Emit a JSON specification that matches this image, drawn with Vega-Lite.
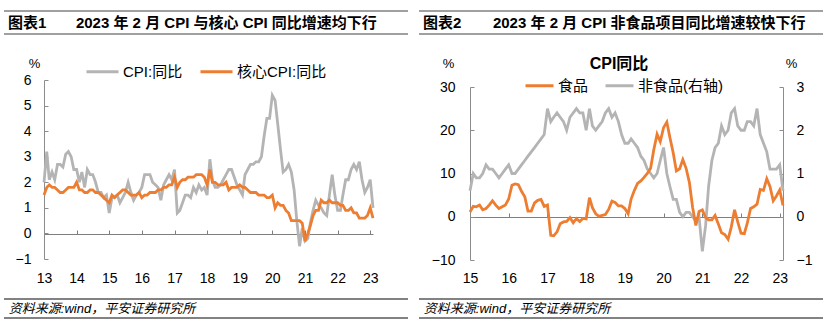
{
  "$schema": "https://vega.github.io/schema/vega-lite/v6.json",
  "background": "white",
  "padding": {"left": 3, "top": 10, "right": 0, "bottom": 0},
  "bounds": "flush",
  "columns": 2,
  "spacing": {"row": 0, "column": 11},
  "resolve": {"scale": {"color": "independent"}, "legend": {"color": "independent"}},
  "config": {
    "font": "Liberation Sans, Noto Sans CJK SC",
    "view": {"stroke": null},
    "axis": {"labelFontSize": 14, "labelColor": "#000000", "domainColor": "#8c8c8c", "tickColor": "#8c8c8c", "grid": false, "titleFontWeight": "normal", "titleColor": "#000000"},
    "legend": {"labelFontSize": 15, "labelColor": "#000000"}
  },
  "concat": [
    {
      "width": 404, "height": 23,
      "data": {"values": [{}]},
      "layer": [
        {"mark": {"type": "rule", "color": "#808080", "strokeWidth": 1.6}, "encoding": {"y": {"datum": 1, "type": "quantitative", "scale": {"domain": [0, 1]}, "axis": null}}},
        {"mark": {"type": "rule", "color": "#808080", "strokeWidth": 1.6}, "encoding": {"y": {"datum": 0, "type": "quantitative", "scale": {"domain": [0, 1]}, "axis": null}}},
        {"mark": {"type": "text", "align": "left", "baseline": "middle", "fontSize": 15, "fontWeight": "bold", "color": "#000000"}, "encoding": {"x": {"datum": 0.01, "type": "quantitative", "scale": {"domain": [0, 1]}, "axis": null}, "y": {"datum": 0.5, "type": "quantitative", "scale": {"domain": [0, 1]}, "axis": null}, "text": {"value": "图表1"}}},
        {"mark": {"type": "text", "align": "left", "baseline": "middle", "fontSize": 15, "fontWeight": "bold", "color": "#000000"}, "encoding": {"x": {"datum": 0.178, "type": "quantitative", "scale": {"domain": [0, 1]}, "axis": null}, "y": {"datum": 0.5, "type": "quantitative", "scale": {"domain": [0, 1]}, "axis": null}, "text": {"value": "2023 年 2 月 CPI 与核心 CPI 同比增速均下行"}}}
      ]
    },
    {
      "width": 404, "height": 23,
      "data": {"values": [{}]},
      "layer": [
        {"mark": {"type": "rule", "color": "#808080", "strokeWidth": 1.6}, "encoding": {"y": {"datum": 1, "type": "quantitative", "scale": {"domain": [0, 1]}, "axis": null}}},
        {"mark": {"type": "rule", "color": "#808080", "strokeWidth": 1.6}, "encoding": {"y": {"datum": 0, "type": "quantitative", "scale": {"domain": [0, 1]}, "axis": null}}},
        {"mark": {"type": "text", "align": "left", "baseline": "middle", "fontSize": 15, "fontWeight": "bold", "color": "#000000"}, "encoding": {"x": {"datum": 0.01, "type": "quantitative", "scale": {"domain": [0, 1]}, "axis": null}, "y": {"datum": 0.5, "type": "quantitative", "scale": {"domain": [0, 1]}, "axis": null}, "text": {"value": "图表2"}}},
        {"mark": {"type": "text", "align": "left", "baseline": "middle", "fontSize": 15, "fontWeight": "bold", "color": "#000000"}, "encoding": {"x": {"datum": 0.183, "type": "quantitative", "scale": {"domain": [0, 1]}, "axis": null}, "y": {"datum": 0.5, "type": "quantitative", "scale": {"domain": [0, 1]}, "axis": null}, "text": {"value": "2023 年 2 月 CPI 非食品项目同比增速较快下行"}}}
      ]
    },
    {
      "width": 404, "height": 265,
      "data": {
        "format": {"parse": {"d": "utc:'%Y-%m'"}},
        "values": [
          {"d":"2013-01","cpi":2.0,"core":1.5},{"d":"2013-02","cpi":3.2,"core":1.8},{"d":"2013-03","cpi":2.1,"core":1.9},{"d":"2013-04","cpi":2.4,"core":1.8},{"d":"2013-05","cpi":2.1,"core":1.8},{"d":"2013-06","cpi":2.7,"core":1.7},{"d":"2013-07","cpi":2.7,"core":1.6},{"d":"2013-08","cpi":2.6,"core":1.6},{"d":"2013-09","cpi":3.1,"core":1.7},{"d":"2013-10","cpi":3.2,"core":1.8},{"d":"2013-11","cpi":3.0,"core":1.8},{"d":"2013-12","cpi":2.5,"core":1.8},
          {"d":"2014-01","cpi":2.5,"core":2.0},{"d":"2014-02","cpi":2.0,"core":1.7},{"d":"2014-03","cpi":2.4,"core":1.7},{"d":"2014-04","cpi":1.8,"core":1.6},{"d":"2014-05","cpi":2.5,"core":1.6},{"d":"2014-06","cpi":2.3,"core":1.7},{"d":"2014-07","cpi":2.3,"core":1.7},{"d":"2014-08","cpi":2.0,"core":1.6},{"d":"2014-09","cpi":1.6,"core":1.6},{"d":"2014-10","cpi":1.6,"core":1.5},{"d":"2014-11","cpi":1.4,"core":1.4},{"d":"2014-12","cpi":1.5,"core":1.3},
          {"d":"2015-01","cpi":0.8,"core":1.2},{"d":"2015-02","cpi":1.4,"core":1.5},{"d":"2015-03","cpi":1.4,"core":1.4},{"d":"2015-04","cpi":1.5,"core":1.5},{"d":"2015-05","cpi":1.2,"core":1.6},{"d":"2015-06","cpi":1.4,"core":1.7},{"d":"2015-07","cpi":1.6,"core":1.7},{"d":"2015-08","cpi":2.0,"core":1.6},{"d":"2015-09","cpi":1.6,"core":1.5},{"d":"2015-10","cpi":1.3,"core":1.5},{"d":"2015-11","cpi":1.5,"core":1.5},{"d":"2015-12","cpi":1.6,"core":1.6},
          {"d":"2016-01","cpi":1.8,"core":1.4},{"d":"2016-02","cpi":2.3,"core":1.5},{"d":"2016-03","cpi":2.3,"core":1.5},{"d":"2016-04","cpi":2.3,"core":1.6},{"d":"2016-05","cpi":2.0,"core":1.6},{"d":"2016-06","cpi":1.9,"core":1.6},{"d":"2016-07","cpi":1.8,"core":1.7},{"d":"2016-08","cpi":1.3,"core":1.7},{"d":"2016-09","cpi":1.9,"core":1.8},{"d":"2016-10","cpi":2.1,"core":1.8},{"d":"2016-11","cpi":2.3,"core":1.9},{"d":"2016-12","cpi":2.1,"core":1.9},
          {"d":"2017-01","cpi":2.5,"core":2.2},{"d":"2017-02","cpi":0.8,"core":1.8},{"d":"2017-03","cpi":0.9,"core":2.0},{"d":"2017-04","cpi":1.2,"core":2.1},{"d":"2017-05","cpi":1.5,"core":2.1},{"d":"2017-06","cpi":1.5,"core":2.2},{"d":"2017-07","cpi":1.4,"core":2.2},{"d":"2017-08","cpi":1.8,"core":2.2},{"d":"2017-09","cpi":1.6,"core":2.3},{"d":"2017-10","cpi":1.9,"core":2.3},{"d":"2017-11","cpi":1.7,"core":2.3},{"d":"2017-12","cpi":1.8,"core":2.2},
          {"d":"2018-01","cpi":1.5,"core":1.9},{"d":"2018-02","cpi":2.9,"core":2.5},{"d":"2018-03","cpi":2.1,"core":2.0},{"d":"2018-04","cpi":1.8,"core":2.0},{"d":"2018-05","cpi":1.8,"core":1.9},{"d":"2018-06","cpi":1.9,"core":1.9},{"d":"2018-07","cpi":2.1,"core":1.9},{"d":"2018-08","cpi":2.3,"core":2.0},{"d":"2018-09","cpi":2.5,"core":1.7},{"d":"2018-10","cpi":2.5,"core":1.8},{"d":"2018-11","cpi":2.2,"core":1.8},{"d":"2018-12","cpi":1.9,"core":1.8},
          {"d":"2019-01","cpi":1.7,"core":1.9},{"d":"2019-02","cpi":1.5,"core":1.8},{"d":"2019-03","cpi":2.3,"core":1.8},{"d":"2019-04","cpi":2.5,"core":1.7},{"d":"2019-05","cpi":2.7,"core":1.6},{"d":"2019-06","cpi":2.7,"core":1.6},{"d":"2019-07","cpi":2.8,"core":1.6},{"d":"2019-08","cpi":2.8,"core":1.5},{"d":"2019-09","cpi":3.0,"core":1.5},{"d":"2019-10","cpi":3.8,"core":1.5},{"d":"2019-11","cpi":4.5,"core":1.4},{"d":"2019-12","cpi":4.5,"core":1.4},
          {"d":"2020-01","cpi":5.4,"core":1.5},{"d":"2020-02","cpi":5.2,"core":1.0},{"d":"2020-03","cpi":4.3,"core":1.2},{"d":"2020-04","cpi":3.3,"core":1.1},{"d":"2020-05","cpi":2.4,"core":1.1},{"d":"2020-06","cpi":2.5,"core":0.9},{"d":"2020-07","cpi":2.7,"core":0.8},{"d":"2020-08","cpi":2.4,"core":0.5},{"d":"2020-09","cpi":1.7,"core":0.5},{"d":"2020-10","cpi":0.5,"core":0.5},{"d":"2020-11","cpi":-0.5,"core":0.5},{"d":"2020-12","cpi":0.2,"core":0.4},
          {"d":"2021-01","cpi":-0.3,"core":-0.3},{"d":"2021-02","cpi":-0.2,"core":0.0},{"d":"2021-03","cpi":0.4,"core":0.3},{"d":"2021-04","cpi":0.9,"core":0.7},{"d":"2021-05","cpi":1.3,"core":0.9},{"d":"2021-06","cpi":1.1,"core":0.9},{"d":"2021-07","cpi":1.0,"core":1.3},{"d":"2021-08","cpi":0.8,"core":1.2},{"d":"2021-09","cpi":0.7,"core":1.2},{"d":"2021-10","cpi":1.5,"core":1.3},{"d":"2021-11","cpi":2.3,"core":1.2},{"d":"2021-12","cpi":1.5,"core":1.2},
          {"d":"2022-01","cpi":0.9,"core":1.2},{"d":"2022-02","cpi":0.9,"core":1.1},{"d":"2022-03","cpi":1.5,"core":1.1},{"d":"2022-04","cpi":2.1,"core":0.9},{"d":"2022-05","cpi":2.1,"core":0.9},{"d":"2022-06","cpi":2.5,"core":1.0},{"d":"2022-07","cpi":2.7,"core":0.8},{"d":"2022-08","cpi":2.5,"core":0.8},{"d":"2022-09","cpi":2.8,"core":0.6},{"d":"2022-10","cpi":2.1,"core":0.6},{"d":"2022-11","cpi":1.6,"core":0.6},{"d":"2022-12","cpi":1.8,"core":0.7},
          {"d":"2023-01","cpi":2.1,"core":1.0},{"d":"2023-02","cpi":1.0,"core":0.6}
        ]
      },
      "layer": [
        {
          "mark": {"type": "line", "strokeWidth": 2.8},
          "encoding": {
            "x": {"field": "d", "type": "temporal", "scale": {"type": "utc", "range": [40, 369]},
                  "axis": {"orient": "bottom", "offset": -40, "domain": false, "ticks": false, "labelPadding": 12, "format": "%y", "tickCount": {"interval": "year", "step": 1}, "title": null, "labelFlush": false, "labelOverlap": false}},
            "y": {"field": "cpi", "type": "quantitative", "scale": {"domain": [-1, 6], "range": [225, 46], "nice": false, "zero": false},
                  "axis": {"orient": "left", "offset": -40, "values": [-1, 0, 1, 2, 3, 4, 5, 6], "tickSize": -4, "labelPadding": 17, "title": "%", "titleAngle": 0, "titleX": -10, "titleY": 29, "titleAlign": "center", "titleBaseline": "middle", "titleFontSize": 13}},
            "color": {"datum": "CPI:同比", "type": "nominal", "scale": {"domain": ["CPI:同比", "核心CPI:同比"], "range": ["#b4b4b4", "#ed7d31"]},
                      "legend": {"orient": "none", "legendX": 81, "legendY": 20, "direction": "horizontal", "title": null, "symbolType": "stroke", "symbolSize": 1024, "symbolStrokeWidth": 3, "labelOffset": 3, "columnPadding": 11, "padding": 0}}
          }
        },
        {
          "mark": {"type": "line", "strokeWidth": 2.8},
          "encoding": {
            "x": {"field": "d", "type": "temporal",
                  "axis": {"orient": "top", "offset": -200, "labels": false, "domain": true, "ticks": true, "tickSize": 4, "tickCount": {"interval": "year", "step": 1}, "title": null, "domainColor": "#7f7f7f", "tickColor": "#7f7f7f"}},
            "y": {"field": "core", "type": "quantitative",
                  "axis": {"orient": "left", "offset": -40, "values": [-1, 0, 1, 2, 3, 4, 5, 6], "tickSize": -4, "labelPadding": 17, "title": "%", "titleAngle": 0, "titleX": -10, "titleY": 29, "titleAlign": "center", "titleBaseline": "middle", "titleFontSize": 13}},
            "color": {"datum": "核心CPI:同比", "type": "nominal"}
          }
        }
      ],
      "resolve": {"axis": {"x": "independent"}}
    },
    {
      "width": 404, "height": 265,
      "title": {"text": "CPI同比", "fontSize": 16, "fontWeight": "bold", "anchor": "middle", "frame": "group", "offset": -46, "baseline": "middle", "dx": -2, "color": "#000000"},
      "data": {
        "format": {"parse": {"d": "utc:'%Y-%m'"}},
        "values": [
          {"d":"2015-01","food":1.1,"nonfood":0.6},{"d":"2015-02","food":2.4,"nonfood":1.0},{"d":"2015-03","food":2.3,"nonfood":0.9},{"d":"2015-04","food":2.7,"nonfood":0.9},{"d":"2015-05","food":1.6,"nonfood":1.0},{"d":"2015-06","food":1.9,"nonfood":1.2},{"d":"2015-07","food":2.7,"nonfood":1.1},{"d":"2015-08","food":3.7,"nonfood":1.1},{"d":"2015-09","food":2.7,"nonfood":1.0},{"d":"2015-10","food":1.9,"nonfood":0.9},{"d":"2015-11","food":2.3,"nonfood":1.0},{"d":"2015-12","food":2.7,"nonfood":1.1},
          {"d":"2016-01","food":4.1,"nonfood":1.2},{"d":"2016-02","food":7.3,"nonfood":1.0},{"d":"2016-03","food":7.6,"nonfood":1.0},{"d":"2016-04","food":7.4,"nonfood":1.1},{"d":"2016-05","food":5.9,"nonfood":1.2},{"d":"2016-06","food":4.6,"nonfood":1.3},{"d":"2016-07","food":1.3,"nonfood":1.4},{"d":"2016-08","food":1.3,"nonfood":1.5},{"d":"2016-09","food":3.2,"nonfood":1.6},{"d":"2016-10","food":3.8,"nonfood":1.7},{"d":"2016-11","food":4.0,"nonfood":1.8},{"d":"2016-12","food":2.4,"nonfood":1.9},
          {"d":"2017-01","food":2.7,"nonfood":2.5},{"d":"2017-02","food":-4.3,"nonfood":2.2},{"d":"2017-03","food":-4.4,"nonfood":2.3},{"d":"2017-04","food":-3.5,"nonfood":2.4},{"d":"2017-05","food":-1.6,"nonfood":2.3},{"d":"2017-06","food":-1.2,"nonfood":2.2},{"d":"2017-07","food":-1.1,"nonfood":2.0},{"d":"2017-08","food":-0.2,"nonfood":2.3},{"d":"2017-09","food":-1.4,"nonfood":2.4},{"d":"2017-10","food":-0.4,"nonfood":2.5},{"d":"2017-11","food":-1.1,"nonfood":2.4},{"d":"2017-12","food":-0.4,"nonfood":2.4},
          {"d":"2018-01","food":-0.5,"nonfood":2.0},{"d":"2018-02","food":4.4,"nonfood":2.5},{"d":"2018-03","food":2.1,"nonfood":2.1},{"d":"2018-04","food":0.7,"nonfood":2.0},{"d":"2018-05","food":0.1,"nonfood":2.1},{"d":"2018-06","food":0.3,"nonfood":2.2},{"d":"2018-07","food":0.5,"nonfood":2.4},{"d":"2018-08","food":1.7,"nonfood":2.5},{"d":"2018-09","food":3.6,"nonfood":2.3},{"d":"2018-10","food":3.3,"nonfood":2.4},{"d":"2018-11","food":2.5,"nonfood":2.2},{"d":"2018-12","food":2.5,"nonfood":1.9},
          {"d":"2019-01","food":1.9,"nonfood":1.7},{"d":"2019-02","food":0.7,"nonfood":1.7},{"d":"2019-03","food":4.1,"nonfood":1.8},{"d":"2019-04","food":6.1,"nonfood":1.7},{"d":"2019-05","food":7.7,"nonfood":1.6},{"d":"2019-06","food":8.3,"nonfood":1.4},{"d":"2019-07","food":9.1,"nonfood":1.3},{"d":"2019-08","food":10.0,"nonfood":1.1},{"d":"2019-09","food":11.2,"nonfood":1.0},{"d":"2019-10","food":15.5,"nonfood":0.9},{"d":"2019-11","food":19.1,"nonfood":1.0},{"d":"2019-12","food":17.4,"nonfood":1.3},
          {"d":"2020-01","food":20.6,"nonfood":1.6},{"d":"2020-02","food":21.9,"nonfood":1.0},{"d":"2020-03","food":18.3,"nonfood":0.7},{"d":"2020-04","food":14.8,"nonfood":0.4},{"d":"2020-05","food":10.6,"nonfood":0.4},{"d":"2020-06","food":11.1,"nonfood":0.1},{"d":"2020-07","food":13.2,"nonfood":0.0},{"d":"2020-08","food":11.2,"nonfood":0.1},{"d":"2020-09","food":7.9,"nonfood":0.1},{"d":"2020-10","food":2.2,"nonfood":0.0},{"d":"2020-11","food":-2.0,"nonfood":-0.1},{"d":"2020-12","food":1.2,"nonfood":0.0},
          {"d":"2021-01","food":1.6,"nonfood":-0.8},{"d":"2021-02","food":-0.2,"nonfood":-0.2},{"d":"2021-03","food":-0.7,"nonfood":0.7},{"d":"2021-04","food":-0.7,"nonfood":1.3},{"d":"2021-05","food":0.3,"nonfood":1.6},{"d":"2021-06","food":-1.7,"nonfood":1.7},{"d":"2021-07","food":-3.7,"nonfood":2.1},{"d":"2021-08","food":-4.1,"nonfood":1.9},{"d":"2021-09","food":-5.2,"nonfood":2.0},{"d":"2021-10","food":-2.4,"nonfood":2.4},{"d":"2021-11","food":1.6,"nonfood":2.5},{"d":"2021-12","food":-1.2,"nonfood":2.1},
          {"d":"2022-01","food":-3.8,"nonfood":2.0},{"d":"2022-02","food":-3.9,"nonfood":2.0},{"d":"2022-03","food":-1.5,"nonfood":2.2},{"d":"2022-04","food":1.9,"nonfood":2.2},{"d":"2022-05","food":2.3,"nonfood":2.1},{"d":"2022-06","food":2.9,"nonfood":2.5},{"d":"2022-07","food":6.3,"nonfood":1.9},{"d":"2022-08","food":6.1,"nonfood":1.7},{"d":"2022-09","food":8.8,"nonfood":1.5},{"d":"2022-10","food":7.0,"nonfood":1.1},{"d":"2022-11","food":3.7,"nonfood":1.1},{"d":"2022-12","food":4.8,"nonfood":1.1},
          {"d":"2023-01","food":6.2,"nonfood":1.2},{"d":"2023-02","food":2.6,"nonfood":0.6}
        ]
      },
      "layer": [
        {
          "mark": {"type": "line", "strokeWidth": 2.8},
          "encoding": {
            "x": {"field": "d", "type": "temporal", "scale": {"type": "utc", "range": [51, 364]},
                  "axis": {"orient": "bottom", "offset": -39, "domain": false, "ticks": false, "labelPadding": 11, "format": "%y", "tickCount": {"interval": "year", "step": 1}, "title": null, "labelFlush": false, "labelOverlap": false}},
            "y": {"field": "nonfood", "type": "quantitative", "scale": {"domain": [-1, 3], "range": [226, 53], "nice": false, "zero": false},
                  "axis": {"orient": "right", "offset": -40, "values": [-1, 0, 1, 2, 3], "tickSize": -4, "labelPadding": 17, "title": "%", "titleAngle": 0, "titleX": 8, "titleY": 29, "titleAlign": "center", "titleBaseline": "middle", "titleFontSize": 13}},
            "color": {"datum": "非食品(右轴)", "type": "nominal", "scale": {"domain": ["食品", "非食品(右轴)"], "range": ["#ed7d31", "#b4b4b4"]},
                      "legend": {"orient": "none", "legendX": 105, "legendY": 36, "direction": "horizontal", "title": null, "symbolType": "stroke", "symbolSize": 784, "symbolStrokeWidth": 3, "labelOffset": 3, "columnPadding": 10, "padding": 0}}
          }
        },
        {
          "mark": {"type": "line", "strokeWidth": 2.8},
          "encoding": {
            "x": {"field": "d", "type": "temporal",
                  "axis": {"orient": "top", "offset": -183, "labels": false, "domain": true, "ticks": true, "tickSize": 4, "tickCount": {"interval": "year", "step": 1}, "title": null, "domainColor": "#7f7f7f", "tickColor": "#7f7f7f"}},
            "y": {"field": "food", "type": "quantitative", "scale": {"domain": [-10, 30], "range": [226, 53], "nice": false, "zero": false},
                  "axis": {"orient": "left", "offset": -51, "values": [-10, 0, 10, 20, 30], "tickSize": -4, "labelPadding": 19, "title": "%", "titleAngle": 0, "titleX": -22, "titleY": 29, "titleAlign": "center", "titleBaseline": "middle", "titleFontSize": 13}},
            "color": {"datum": "食品", "type": "nominal"}
          }
        }
      ],
      "resolve": {"scale": {"y": "independent"}, "axis": {"x": "independent", "y": "independent"}}
    },
    {
      "width": 404, "height": 19,
      "data": {"values": [{}]},
      "layer": [
        {"mark": {"type": "rule", "color": "#595959", "strokeWidth": 1.3}, "encoding": {"y": {"datum": 1, "type": "quantitative", "scale": {"domain": [0, 1]}, "axis": null}}},
        {"mark": {"type": "rule", "color": "#595959", "strokeWidth": 1.3}, "encoding": {"y": {"datum": 0, "type": "quantitative", "scale": {"domain": [0, 1]}, "axis": null}}},
        {"mark": {"type": "text", "align": "left", "baseline": "middle", "fontSize": 13, "fontStyle": "italic", "color": "#000000"}, "encoding": {"x": {"datum": 0.012, "type": "quantitative", "scale": {"domain": [0, 1]}, "axis": null}, "y": {"datum": 0.5, "type": "quantitative", "scale": {"domain": [0, 1]}, "axis": null}, "text": {"value": "资料来源:wind，平安证券研究所"}}}
      ]
    },
    {
      "width": 404, "height": 19,
      "data": {"values": [{}]},
      "layer": [
        {"mark": {"type": "rule", "color": "#595959", "strokeWidth": 1.3}, "encoding": {"y": {"datum": 1, "type": "quantitative", "scale": {"domain": [0, 1]}, "axis": null}}},
        {"mark": {"type": "rule", "color": "#595959", "strokeWidth": 1.3}, "encoding": {"y": {"datum": 0, "type": "quantitative", "scale": {"domain": [0, 1]}, "axis": null}}},
        {"mark": {"type": "text", "align": "left", "baseline": "middle", "fontSize": 13, "fontStyle": "italic", "color": "#000000"}, "encoding": {"x": {"datum": 0.012, "type": "quantitative", "scale": {"domain": [0, 1]}, "axis": null}, "y": {"datum": 0.5, "type": "quantitative", "scale": {"domain": [0, 1]}, "axis": null}, "text": {"value": "资料来源:wind，平安证券研究所"}}}
      ]
    }
  ]
}
